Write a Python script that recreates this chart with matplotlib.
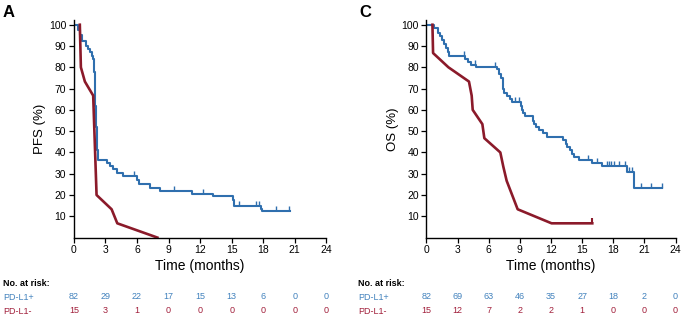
import numpy as np
import matplotlib
matplotlib.use("Agg")
import matplotlib.pyplot as plt
import matplotlib.transforms as mtransforms

plt.rcParams['font.family'] = ['Liberation Sans', 'DejaVu Sans']

BLUE = '#2f6fae'
RED = '#8b1a2a'
BLUE_TXT = '#4282bd'
RED_TXT = '#a11f3b'

risk_times = [0, 3, 6, 9, 12, 15, 18, 21, 24]

# PFS, PD-L1+ (Kaplan-Meier steps)
pfs_pos_t = [0, 0.41, 0.57, 0.73, 1.14, 1.37, 1.53, 1.68, 1.84, 1.94, 2.00, 2.05, 2.10, 2.16,
             2.26, 3.11, 3.43, 3.75, 4.07, 4.70, 6.04, 6.23, 7.25, 8.20, 11.20, 13.20, 15.10,
             15.25, 17.80, 17.90, 20.50]
pfs_pos_s = [100, 97.5, 95, 92.5, 90, 88.5, 87, 85.5, 84, 78, 70, 62, 52, 41,
             36.5, 35, 33.5, 32, 30.5, 29, 27, 25, 23.5, 22, 20.7, 19.3, 17.5,
             14.7, 13.5, 12.4, 12.4]
pfs_pos_cens = [5.72, 9.53, 12.3, 15.7, 17.35, 17.6, 19.26, 20.47]

# PFS, PD-L1-
pfs_neg_t = [0.57, 0.67, 1.05, 1.84, 2.16, 3.59, 4.13, 7.94]
pfs_neg_s = [100, 80, 73.3, 66.7, 20, 13.3, 6.7, 0]

# OS, PD-L1+
os_pos_t = [0, 0.77, 1.09, 1.16, 1.32, 1.54, 1.73, 1.89, 2.05, 2.21, 3.72, 4.04, 4.30, 4.75,
            6.77, 6.99, 7.15, 7.35, 7.41, 7.51, 7.73, 8.05, 8.21, 9.08, 9.18, 9.34, 9.50,
            10.24, 10.36, 10.59, 10.88, 11.20, 11.58, 13.19, 13.41, 13.57, 13.83, 13.99,
            14.21, 14.73, 15.98, 16.88, 19.28, 20.02, 22.72]
os_pos_s = [100, 98.5, 97, 96, 94.5, 93, 91, 89, 87, 85.4, 84, 82.5, 81, 80.2,
            79, 77, 75, 72.5, 70, 68, 66.5, 65, 63.5, 62, 60, 58.5, 57,
            55, 53.5, 52, 50.5, 49, 47.3, 46, 44, 42.5, 41, 39.5,
            38, 36.5, 35, 33.5, 31, 23.2, 23.2]
os_pos_cens = [3.6, 4.68, 6.6, 8.53, 8.92, 15.6, 16.46, 17.36, 17.6, 17.8, 18.1, 18.6,
               19.1, 19.5, 19.8, 20.7, 21.6, 22.7]

# OS, PD-L1-
os_neg_t = [0.58, 0.64, 2.12, 4.10, 4.36, 4.46, 5.39, 5.58, 7.12, 7.41, 7.73, 8.79, 12.06, 15.98]
os_neg_s = [100, 86.7, 80, 73.3, 66.7, 60, 53.3, 46.7, 40, 33.3, 26.7, 13.3, 6.7, 6.7]
os_neg_cens = [15.98]

pfs_risk_pos = [82, 29, 22, 17, 15, 13, 6, 0, 0]
pfs_risk_neg = [15, 3, 1, 0, 0, 0, 0, 0, 0]
os_risk_pos = [82, 69, 63, 46, 35, 27, 18, 2, 0]
os_risk_neg = [15, 12, 7, 2, 2, 1, 0, 0, 0]

tick_up = [(0, 0), (0, 1)]


def step_value(t, s, x):
    i = np.searchsorted(t, x, side='right') - 1
    return np.asarray(s)[i]


def style_axes(ax, ylabel):
    ax.set_xlim(0, 24)
    ax.set_ylim(0, 102)
    ax.set_xticks(risk_times)
    ax.set_yticks(range(10, 101, 10))
    ax.spines['top'].set_visible(False)
    ax.spines['right'].set_visible(False)
    ax.spines['left'].set_linewidth(1)
    ax.spines['bottom'].set_linewidth(1)
    ax.tick_params(labelsize=7.5, length=3.5, width=0.9, pad=2)
    ax.set_xlabel('Time (months)', fontsize=10, labelpad=3)
    ax.set_ylabel(ylabel, fontsize=9.5, labelpad=2)


def risk_table(ax, xlab, pos, neg):
    tr = mtransforms.blended_transform_factory(ax.transData, ax.transAxes)
    fig.text(xlab, 0.128, 'No. at risk:', fontsize=6.5, fontweight='bold', va='center')
    fig.text(xlab, 0.086, 'PD-L1+', fontsize=6.5, color=BLUE_TXT, va='center')
    fig.text(xlab, 0.043, 'PD-L1-', fontsize=6.5, color=RED_TXT, va='center')
    for t, p, n in zip(risk_times, pos, neg):
        ax.text(t, -0.273, str(p), transform=tr, fontsize=6.5, color=BLUE_TXT, ha='center', va='center')
        ax.text(t, -0.337, str(n), transform=tr, fontsize=6.5, color=RED_TXT, ha='center', va='center')


fig = plt.figure(figsize=(6.9, 3.25), dpi=100)
ax1 = fig.add_axes([0.107, 0.269, 0.366, 0.668])
ax2 = fig.add_axes([0.618, 0.269, 0.361, 0.668])

# PFS panel
ax1.step(pfs_pos_t, pfs_pos_s, where='post', color=BLUE, lw=1.5)
ax1.plot(pfs_pos_cens, step_value(pfs_pos_t, pfs_pos_s, pfs_pos_cens), ls='none',
         marker=tick_up, ms=7, mew=1, color=BLUE)
ax1.plot(pfs_neg_t, pfs_neg_s, color=RED, lw=1.9)
style_axes(ax1, 'PFS (%)')

# OS panel
ax2.step(os_pos_t, os_pos_s, where='post', color=BLUE, lw=1.5)
ax2.plot(os_pos_cens, step_value(os_pos_t, os_pos_s, os_pos_cens), ls='none',
         marker=tick_up, ms=7, mew=1, color=BLUE)
ax2.plot(os_neg_t, os_neg_s, color=RED, lw=1.9)
ax2.plot(os_neg_cens, [os_neg_s[-1]], ls='none', marker=tick_up, ms=7, mew=1.5, color=RED)
style_axes(ax2, 'OS (%)')

risk_table(ax1, 0.004, pfs_risk_pos, pfs_risk_neg)
risk_table(ax2, 0.519, os_risk_pos, os_risk_neg)

fig.text(0.004, 0.962, 'A', fontsize=12, fontweight='bold', va='center')
fig.text(0.521, 0.962, 'C', fontsize=12, fontweight='bold', va='center')

fig.savefig('out.png', dpi=100)
